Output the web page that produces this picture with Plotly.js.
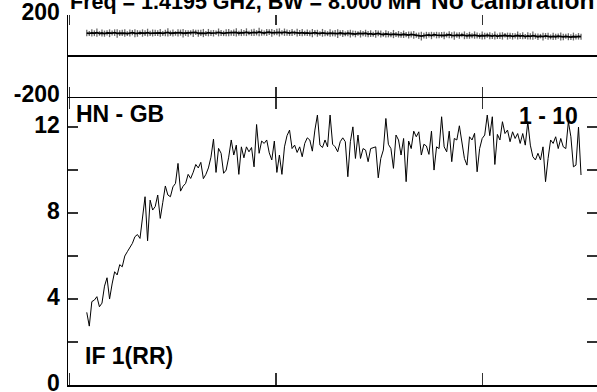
<!DOCTYPE html>
<html>
<head>
<meta charset="utf-8">
<script src="https://cdn.plot.ly/plotly-3.0.1.min.js"></script>
<style>html,body{margin:0;padding:0;background:#fff;}#chart{width:597px;height:392px;}</style>
</head>
<body>
<div id="chart"></div>
<script>
// Amplitude per channel (bottom panel)
const amplitude = [
 3.38,2.74,3.88,3.95,4.11,3.64,3.81,4.6,4.99,4.0,
 4.7,5.27,5.12,5.6,5.5,6.0,6.2,6.43,6.59,6.9,
 7.0,6.82,7.8,8.76,6.71,8.6,8.14,8.3,8.84,7.75,
 8.5,9.26,8.84,8.76,9.22,9.38,10.31,9.02,9.25,9.38,
 9.8,9.61,9.9,10.26,10.1,10.36,9.6,9.8,10.1,10.6,
 11.44,9.89,11.01,10.78,9.85,10.0,10.6,11.4,10.7,11.16,
 9.8,11.08,10.57,11.08,10.85,11.05,10.15,12.12,10.78,11.35,
 11.24,11.4,10.8,10.47,11.35,9.89,10.7,9.8,11.08,11.6,
 11.86,11.0,11.16,10.82,11.08,10.62,11.24,11.5,11.4,10.88,
 11.86,12.56,11.16,11.05,11.4,11.08,12.56,11.2,11.08,10.85,11.32,
 11.5,11.32,9.69,11.32,12.01,10.54,11.63,10.54,11.0,10.93,
 10.39,11.0,11.04,11.08,9.64,10.54,10.93,12.4,11.2,11.0,
 10.08,11.63,11.4,10.7,11.47,9.46,11.35,11.0,11.81,11.55,
 11.78,10.7,11.2,
 11.12,10.73,11.81,10.0,11.08,11.0,12.48,11.08,10.85,11.81,
 10.39,11.47,11.4,12.06,11.32,10.54,10.23,11.55,11.4,11.71,
 9.92,11.0,11.47,11.63,12.56,11.6,12.48,10.26,11.66,11.4,
 12.25,11.7,11.86,11.32,11.78,11.47,11.7,11.24,11.7,11.16,
 12.25,11.16,10.62,10.47,10.78,10.47,11.08,9.46,10.54,11.4,
 11.24,11.55,11.0,11.47,11.08,11.0,12.25,11.55,10.15,10.23,
 12.0,9.77
];
// Phase per channel (top panel), degrees
const phase = [
 112,110,113,111,114,110,112,109,113,111,112,114,110,111,113,112,109,112,114,111,110,113,112,111,114,110,112,113,
 111,113,110,112,115,111,112,110,113,114,111,112,110,113,112,115,111,113,112,110,114,112,111,113,115,112,110,113,
 114,112,113,115,111,114,113,116,112,114,115,113,117,114,112,115,116,113,114,117,115,113,116,114,112,115,113,114,
 112,114,111,113,110,112,114,111,110,113,111,109,112,110,111,109,112,110,108,111,109,110,107,110,108,109,111,107,
 109,106,108,110,107,105,108,106,104,107,105,106,103,106,104,102,105,103,101,99,97,99,101,103,100,104,102,101,
 103,100,102,104,101,99,102,100,103,101,98,101,99,102,100,97,100,98,101,99,97,100,96,99,98,101,97,99,
 96,98,100,97,99,95,98,96,99,97,94,97,95,98,96,93,96,94,97,95,93,96,94,92,95,93,96,94
];
// Phase scatter (error-bar half length), degrees
const phaseErr = [
 16,12,18,14,20,11,17,15,13,19,12,16,21,14,15,18,12,17,13,20,16,11,18,14,19,13,17,15,
 14,19,12,16,20,13,17,11,18,15,21,14,16,12,19,13,17,15,20,12,18,14,16,11,19,15,13,17,
 18,13,16,20,12,17,14,19,11,16,18,13,21,15,12,17,14,19,13,16,20,12,18,15,14,17,11,19,
 15,18,12,16,14,20,13,17,11,19,15,12,18,14,16,21,13,17,12,15,19,14,16,11,18,13,17,15,
 16,12,19,14,17,11,18,15,13,20,12,16,14,18,13,17,15,19,12,16,21,14,17,13,18,12,16,15,
 14,18,12,17,15,20,13,16,11,19,14,17,12,18,15,13,20,16,12,17,14,19,13,16,18,11,17,15,
 16,13,19,14,17,12,18,15,20,13,16,11,19,14,17,12,18,15,13,20,16,12,17,14,19,13,16,15
];
const channels = amplitude.map((_, i) => i);

const phaseTickVals = [-200, 200];
const phaseTickText = ['-200', '200'];
const ampTickVals = [0, 2, 4, 6, 8, 10, 12];
const ampTickText = ['0', '', '4', '', '8', '', '12'];

const titleText = 'Freq = 1.4195 GHz, BW = 8.000 MH';
const calText = 'No calibration';
const baselineText = 'HN - GB';
const scanText = '1 - 10';
const ifText = 'IF 1(RR)';

const xRange = [-7.4, 201.3];
const xTick0 = -6.9, xDtick = 81.5;
const phaseRange = [-200, 200];
const ampRange = [0, 13.4];
const split = 0.7784;

const FONT = 'Liberation Sans, Arial, Helvetica, sans-serif';
const TC = '#333';

const traces = [
  {x: channels, y: phase, xaxis: 'x2', yaxis: 'y', type: 'scatter', mode: 'lines',
   line: {color: 'black', width: 1.8},
   error_y: {type: 'data', array: phaseErr, visible: true, color: '#6a6a6a', thickness: 1.3, width: 0}},
  {x: channels, y: amplitude, xaxis: 'x', yaxis: 'y2', type: 'scatter', mode: 'lines',
   line: {color: 'black', width: 1}},
  {x: [], y: [], xaxis: 'x3', yaxis: 'y', type: 'scatter', mode: 'lines'},
  {x: [], y: [], xaxis: 'x4', yaxis: 'y2', type: 'scatter', mode: 'lines'},
  {x: [], y: [], xaxis: 'x2', yaxis: 'y3', type: 'scatter', mode: 'lines'},
  {x: [], y: [], xaxis: 'x', yaxis: 'y4', type: 'scatter', mode: 'lines'}
];

const xBase = {range: xRange, tickmode: 'linear', tick0: xTick0, dtick: xDtick,
  ticks: 'inside', tickcolor: TC, tickwidth: 1.5, showticklabels: false,
  showgrid: false, zeroline: false, fixedrange: true};
const yTickBase = {ticks: 'inside', ticklen: 10, tickcolor: TC, tickwidth: 1.5,
  showgrid: false, fixedrange: true};
const tickFont = {family: FONT, size: 23, color: 'black', weight: 'bold'};

function ann(text, x, y, size) {
  return {text: text, xref: 'paper', yref: 'paper', x: x, y: y, xanchor: 'left', yanchor: 'middle',
    showarrow: false, font: {family: FONT, size: size || 23, color: 'black', weight: 'bold'}};
}

const layout = {
  width: 597, height: 392,
  margin: {l: 68, r: 0, t: 15, b: 7, pad: 0},
  paper_bgcolor: 'white', plot_bgcolor: 'rgba(0,0,0,0)',
  showlegend: false,
  font: {family: FONT, size: 23, color: 'black', weight: 'bold'},
  xaxis: Object.assign({}, xBase, {domain: [0, 1], anchor: 'y2', ticklen: 12,
    showline: true, linecolor: 'black', linewidth: 1.5}),
  xaxis2: Object.assign({}, xBase, {domain: [0, 1], anchor: 'y', ticklen: 10,
    showline: true, linecolor: 'black', linewidth: 1.5}),
  xaxis3: Object.assign({}, xBase, {overlaying: 'x2', side: 'top', anchor: 'y', ticklen: 10, showline: false}),
  xaxis4: Object.assign({}, xBase, {overlaying: 'x', side: 'top', anchor: 'y2', ticklen: 12, showline: false}),
  yaxis: Object.assign({}, yTickBase, {domain: [split, 1], anchor: 'x2', range: phaseRange,
    tickmode: 'array', tickvals: phaseTickVals, ticktext: phaseTickText,
    showline: true, linecolor: 'black', linewidth: 1.5,
    zeroline: true, zerolinecolor: 'black', zerolinewidth: 1.5, ticklabelstandoff: 2,
    ticklabeloverflow: 'allow', ticklabelshift: -3, tickfont: tickFont}),
  yaxis2: Object.assign({}, yTickBase, {domain: [0, split], anchor: 'x', range: ampRange,
    tickmode: 'array', tickvals: ampTickVals, ticktext: ampTickText,
    showline: true, linecolor: 'black', linewidth: 1.5, zeroline: false, ticklabelstandoff: 2,
    ticklabeloverflow: 'allow', ticklabelshift: -2, tickfont: tickFont}),
  yaxis3: Object.assign({}, yTickBase, {overlaying: 'y', side: 'right', anchor: 'x2', range: phaseRange,
    tickmode: 'array', tickvals: phaseTickVals, showticklabels: false, showline: false, zeroline: false}),
  yaxis4: Object.assign({}, yTickBase, {overlaying: 'y2', side: 'right', anchor: 'x', range: ampRange,
    tickmode: 'array', tickvals: ampTickVals, showticklabels: false, showline: false, zeroline: false}),
  annotations: [
    ann(titleText, 0, 1.0357, 21.5),
    ann(calText, 0.683, 1.0385, 24.5),
    ann(baselineText, 0.0113, 0.7311),
    ann(scanText, 0.849, 0.727),
    ann(ifText, 0.0284, 0.0797)
  ]
};

Plotly.newPlot('chart', traces, layout, {displayModeBar: false, staticPlot: true});
</script>
</body>
</html>
